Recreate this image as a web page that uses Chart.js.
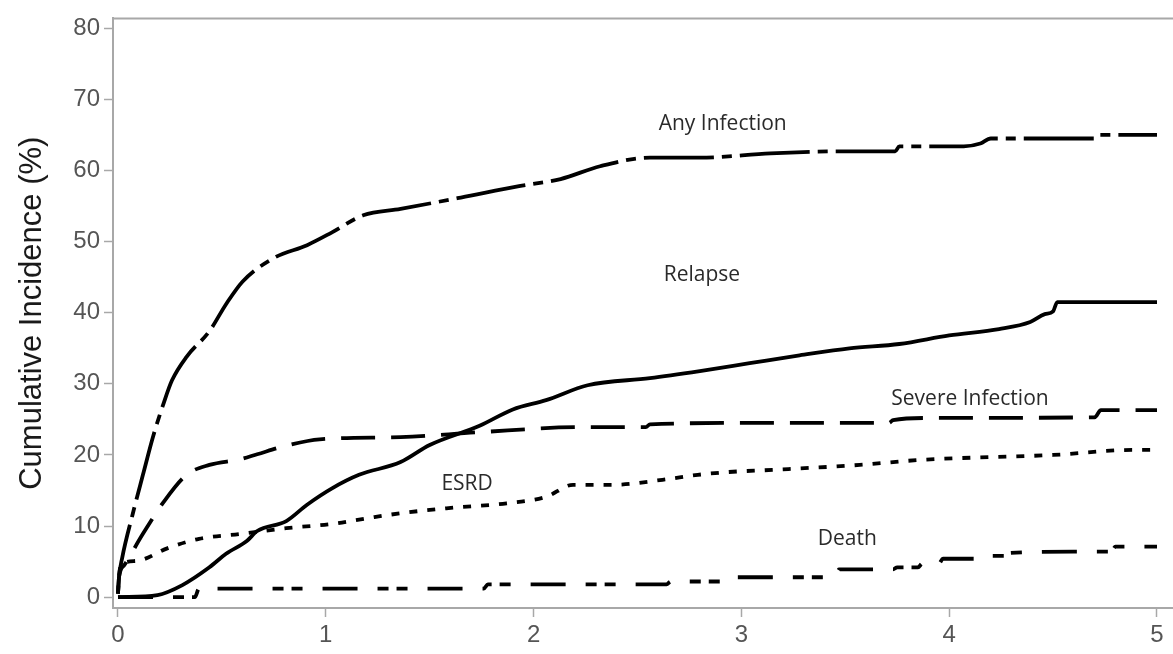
<!DOCTYPE html>
<html>
<head>
<meta charset="utf-8">
<script src="https://cdn.jsdelivr.net/npm/chart.js@4.4.1/dist/chart.umd.min.js"></script>
<style>
  body { margin: 0; background: #fff; }
  canvas { display: block; }
</style>
</head>
<body>
<canvas id="chart" width="1173" height="654"></canvas>
<script>
// years since diagnosis / cumulative incidence (%) for each outcome
let anyInfT = [0, 0.005, 0.02, 0.07, 0.12, 0.17, 0.22, 0.26, 0.33, 0.44, 0.52, 0.6, 0.75, 0.91, 1.03, 1.18, 1.36, 1.65, 1.93, 2.13, 2.32, 2.56, 2.8, 3.14, 3.5, 3.74, 3.76, 4.07, 4.15, 4.2, 4.7, 4.72, 5];
let anyInfY = [0.5, 2.8, 5.5, 11.6, 17.2, 22.7, 27.3, 30.5, 33.8, 37.4, 41.2, 44.4, 47.7, 49.5, 51.3, 53.7, 54.6, 56.2, 57.8, 58.8, 60.6, 61.8, 61.8, 62.4, 62.7, 62.7, 63.4, 63.4, 63.8, 64.5, 64.5, 65, 65];

let relapseT = [0, 0.19, 0.31, 0.44, 0.52, 0.62, 0.67, 0.81, 0.91, 1.03, 1.16, 1.36, 1.5, 1.74, 1.9, 2.06, 2.26, 2.56, 2.8, 3.04, 3.28, 3.52, 3.76, 4.0, 4.24, 4.39, 4.46, 4.5, 4.52, 5];
let relapseY = [0, 0.3, 1.7, 4.2, 6.1, 7.9, 9.3, 10.7, 13, 15.3, 17.2, 19, 21.4, 24.1, 26.4, 27.7, 29.8, 30.8, 31.8, 32.9, 34, 35, 35.6, 36.8, 37.7, 38.7, 39.8, 40.2, 41.5, 41.5];

let severeT = [0, 0.005, 0.03, 0.12, 0.22, 0.33, 0.44, 0.59, 0.67, 0.81, 0.97, 1.36, 1.74, 2.22, 2.54, 2.56, 3.03, 3.35, 3.71, 3.73, 3.91, 4.7, 4.73, 5];
let severeY = [0.5, 2.8, 4.5, 8.9, 13.4, 17.2, 18.6, 19.4, 20.1, 21.3, 22.2, 22.5, 23.2, 23.9, 23.9, 24.3, 24.5, 24.5, 24.5, 24.9, 25.2, 25.3, 26.3, 26.3];

let esrdT = [0, 0.005, 0.02, 0.09, 0.24, 0.39, 0.59, 0.81, 1.03, 1.2, 1.36, 1.58, 1.87, 2.06, 2.19, 2.38, 2.62, 2.79, 2.94, 3.15, 3.57, 3.86, 4.5, 4.88, 5];
let esrdY = [0.5, 3, 4.7, 5.1, 6.9, 8.2, 8.9, 9.7, 10.3, 11.1, 11.8, 12.5, 13.2, 14.1, 15.8, 15.8, 16.5, 17.2, 17.6, 17.9, 18.6, 19.3, 20, 20.7, 20.7];

let deathT = [0, 0.37, 0.39, 1.76, 1.78, 2.64, 2.66, 2.92, 2.94, 3.1, 3.45, 3.47, 3.73, 3.75, 3.85, 3.87, 3.95, 3.97, 4.16, 4.18, 4.27, 4.29, 4.6, 4.78, 4.8, 5];
let deathY = [0, 0, 1.2, 1.2, 1.8, 1.8, 2.2, 2.2, 2.8, 2.8, 2.8, 3.9, 3.9, 4.2, 4.2, 4.7, 4.7, 5.4, 5.4, 5.8, 5.8, 6.2, 6.4, 6.4, 7.1, 7.1];

let xTicks = [0, 1, 2, 3, 4, 5];
let yTicks = [0, 10, 20, 30, 40, 50, 60, 70, 80];

let curveNames = ['Any Infection', 'Relapse', 'Severe Infection', 'ESRD', 'Death'];
let labelPos = [[2.91, 66.5], [2.81, 45.3], [4.1, 27.9], [1.68, 15.9], [3.51, 8.2]];

let dashes = [[70, 8, 10, 8], [], [34, 16], [8, 10], [35, 20, 11, 8, 11, 20]];

function toPoints(t, y) {
    return t.map((v, i) => ({ x: v, y: y[i] }));
}

let series = [
    toPoints(anyInfT, anyInfY),
    toPoints(relapseT, relapseY),
    toPoints(severeT, severeY),
    toPoints(esrdT, esrdY),
    toPoints(deathT, deathY)
];

// curve names written next to each line, plus the top frame edge
let curveText = {
    id: 'curveText',
    afterDatasetsDraw(chart) {
        let c = chart.ctx;
        let xs = chart.scales.x, ys = chart.scales.y;
        let area = chart.chartArea;
        c.save();
        c.strokeStyle = '#a8a8a8';
        c.lineWidth = 2;
        c.beginPath();
        c.moveTo(area.left, area.top);
        c.lineTo(area.right, area.top);
        c.stroke();
        c.fillStyle = '#2a2a2a';
        c.font = '21px "Open Sans"';
        c.textAlign = 'center';
        c.textBaseline = 'middle';
        curveNames.forEach((name, i) => {
            c.fillText(name, xs.getPixelForValue(labelPos[i][0]), ys.getPixelForValue(labelPos[i][1]));
        });
        c.restore();
    }
};

let ctx = document.getElementById('chart').getContext('2d');
let chart = new Chart(ctx, {
    type: 'line',
    data: {
        datasets: series.map((pts, i) => ({
            label: curveNames[i],
            data: pts,
            borderColor: '#000',
            borderWidth: 3.8,
            borderDash: dashes[i],
            pointRadius: 0,
            cubicInterpolationMode: 'monotone',
            fill: false
        }))
    },
    options: {
        responsive: false,
        animation: false,
        devicePixelRatio: 1,
        layout: { padding: { top: 10, right: 0, left: 0, bottom: 0 } },
        plugins: {
            legend: { display: false },
            tooltip: { enabled: false }
        },
        scales: {
            x: {
                type: 'linear',
                min: -0.024,
                max: 5.077,
                afterFit: (s) => { s.height = 46; },
                afterBuildTicks: (s) => { s.ticks = xTicks.map(v => ({ value: v })); },
                grid: { display: true, drawOnChartArea: false, drawTicks: true, tickLength: 9, color: '#a8a8a8', tickWidth: 1.5 },
                border: { display: true, color: '#a8a8a8', width: 2 },
                ticks: { color: '#555', padding: 4, font: { family: 'Liberation Sans, Arial', size: 24 }, maxRotation: 0 }
            },
            y: {
                min: -1.525,
                max: 81.39,
                afterFit: (s) => { s.width = 113; },
                afterBuildTicks: (s) => { s.ticks = yTicks.map(v => ({ value: v })); },
                grid: { display: true, drawOnChartArea: false, drawTicks: true, tickLength: 9, color: '#a8a8a8', tickWidth: 1.5 },
                border: { display: true, color: '#a8a8a8', width: 2 },
                ticks: { color: '#555', padding: 4, font: { family: 'Liberation Sans, Arial', size: 24 } },
                title: {
                    display: true,
                    text: 'Cumulative Incidence (%)',
                    color: '#1a1a1a',
                    font: { family: 'Liberation Sans, Arial', size: 31 },
                    padding: { top: 14, bottom: 0 }
                }
            }
        }
    },
    plugins: [curveText]
});
</script>
</body>
</html>
